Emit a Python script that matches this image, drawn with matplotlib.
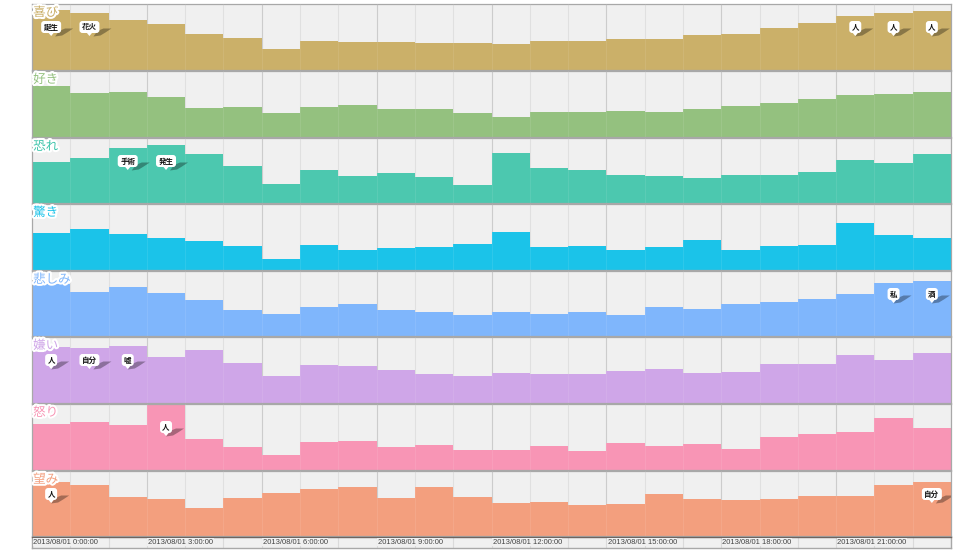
import matplotlib
matplotlib.use("Agg")
import matplotlib.pyplot as plt
import matplotlib.patheffects as pe
from matplotlib.patches import FancyBboxPatch, Polygon
from matplotlib.transforms import Affine2D, ScaledTranslation

plt.rcParams['font.family'] = ['Noto Sans CJK JP', 'DejaVu Sans']

W, H = 967, 553
LEFT, RIGHT = 32, 951

emotions = ['喜び', '好き', '恐れ', '驚き', '悲しみ', '嫌い', '怒り', '望み']
colors = ['#CBB069', '#94C17F', '#4CC8AF', '#1BC3E9',
          '#7FB6FC', '#CFA6E8', '#F895B5', '#F39F7E']
label_colors = ['#C9AE66', '#94C17F', '#3CC4AA', '#1BC3E9',
                '#7FB6FC', '#CFA6E8', '#F895B5', '#F39F7E']

joy = [178, 170, 149, 136, 107, 94, 63, 85, 84, 82, 80, 81,
       76, 85, 85, 92, 91, 103, 107, 126, 139, 160, 169, 175]
like = [151, 131, 134, 120, 85, 89, 72, 90, 94, 82, 82, 70,
        59, 75, 75, 78, 75, 84, 92, 102, 113, 125, 129, 135]
fear = [125, 137, 165, 176, 147, 112, 57, 100, 82, 91, 78, 55,
        151, 106, 99, 85, 81, 76, 85, 85, 93, 130, 122, 148]
surprise = [110, 122, 107, 96, 86, 71, 32, 75, 58, 64, 69, 76,
            113, 68, 71, 58, 67, 88, 58, 72, 74, 141, 105, 95]
sadness = [157, 133, 148, 130, 109, 77, 67, 86, 95, 79, 71, 64,
           72, 67, 71, 62, 88, 80, 95, 104, 111, 127, 160, 165]
dislike = [165, 162, 168, 138, 156, 118, 80, 114, 110, 99, 86, 79,
           89, 86, 85, 95, 102, 89, 91, 117, 117, 143, 128, 149]
anger = [138, 143, 133, 196, 91, 68, 46, 82, 85, 69, 75, 58,
         59, 70, 57, 80, 70, 76, 61, 99, 107, 112, 154, 124]
hope = [164, 155, 119, 111, 85, 116, 129, 143, 148, 116, 148, 118,
        101, 102, 92, 97, 128, 111, 108, 113, 122, 122, 154, 164]
series = [joy, like, fear, surprise, sadness, dislike, anger, hope]

# (panel, hour, word) for each keyword balloon
tags = [(0, 0, '誕生'), (0, 1, '花火'), (0, 21, '人'), (0, 22, '人'), (0, 23, '人'),
        (2, 2, '手術'), (2, 3, '発生'),
        (4, 22, '私'), (4, 23, '酒'),
        (5, 0, '人'), (5, 1, '自分'), (5, 2, '嘘'),
        (6, 3, '人'),
        (7, 0, '人'), (7, 23, '自分')]

tick_hours = [0, 3, 6, 9, 12, 15, 18, 21]
tick_labels = ['2013/08/01 0:00:00', '2013/08/01 3:00:00', '2013/08/01 6:00:00',
               '2013/08/01 9:00:00', '2013/08/01 12:00:00', '2013/08/01 15:00:00',
               '2013/08/01 18:00:00', '2013/08/01 21:00:00']

panel_tops = [4, 71, 138, 204, 271, 337, 404, 471]
panel_bottoms = [70, 137, 203, 270, 336, 403, 470, 536]
AXIS_TOP, AXIS_BOTTOM = 537, 548
Y_MAX = 196

fig = plt.figure(figsize=(W / 100, H / 100), dpi=100, facecolor='white')


def add_axes_px(top, bottom):
    return fig.add_axes([LEFT / W, 1 - bottom / H, (RIGHT - LEFT) / W, (bottom - top) / H])


def draw_tag(ax, hour, word, y):
    # Balloon geometry is in pixels, anchored at the bin centre.
    anchor = ScaledTranslation(hour + 0.5, y, ax.transData)
    px = Affine2D() + anchor
    half = 10 if len(word) > 1 else 6
    shadow = Polygon([(half - 6, -9.5), (half + 1, -8.5), (half + 6, -5.5), (half + 12, -1.5),
                      (half + 4, -1.5), (half - 2, -4)],
                     closed=True, transform=px, facecolor='#000000', alpha=0.32,
                     edgecolor='none', zorder=4)
    ax.add_patch(shadow)
    shadow.set_clip_path(ax.patch)
    ax.add_patch(FancyBboxPatch((-half + 2, -4), 2 * half - 4, 8,
                                boxstyle='round,pad=2,rounding_size=3',
                                transform=px, facecolor='white', edgecolor='none',
                                zorder=5, clip_on=False))
    ax.add_patch(Polygon([(-2.5, -6), (2.5, -6), (0, -9)], closed=True, transform=px,
                         facecolor='white', edgecolor='none', zorder=5))
    ax.annotate(word, xy=(hour + 0.5, y), ha='center', va='center', fontsize=5.4,
                fontweight='bold', color='#111111', zorder=6)


for i, (name, values) in enumerate(zip(emotions, series)):
    ax = add_axes_px(panel_tops[i], panel_bottoms[i])
    ax.set_facecolor('#F0F0F0')
    ax.set_xlim(0, 24)
    ax.set_ylim(0, Y_MAX)
    ax.bar(range(24), values, width=1.0, align='edge', color=colors[i], zorder=2)
    for h in range(1, 24):
        shade = '#C8C8C8' if h % 3 == 0 else '#DEDEDE'
        ax.axvline(h, color=shade, lw=0.8, zorder=1)
        ax.axvline(h, color='white', lw=0.5, alpha=0.12, zorder=3)
    ax.set_xticks([])
    ax.set_yticks([])
    for s in ax.spines.values():
        s.set_color('#A8A8A8')
        s.set_linewidth(0.9)
    ax.text(0.03, Y_MAX - 6, name, fontsize=9, color=label_colors[i], ha='left', va='top',
            zorder=7, clip_on=False,
            path_effects=[pe.withStroke(linewidth=3, foreground='white')])
    tag_y = Y_MAX * (1 - 23 / (panel_bottoms[i] - panel_tops[i]))
    for panel, hour, word in tags:
        if panel == i:
            draw_tag(ax, hour, word, tag_y)

axis = add_axes_px(AXIS_TOP, AXIS_BOTTOM)
axis.set_facecolor('#F0F0F0')
axis.set_xlim(0, 24)
axis.set_ylim(0, 1)
axis.set_xticks([])
axis.set_yticks([])
for h in range(1, 24):
    axis.axvline(h, color='#DADADA', lw=0.8, zorder=1)
for s in axis.spines.values():
    s.set_color('#A8A8A8')
    s.set_linewidth(1.0)
axis.spines['top'].set_color('#6E6460')
for hour, label in zip(tick_hours, tick_labels):
    axis.text(hour + 0.03, 0.52, label, fontsize=5.5, color='#444444', ha='left', va='center',
              family=['Liberation Sans', 'DejaVu Sans'], zorder=3,
              bbox=dict(facecolor='#F0F0F0', edgecolor='none', pad=0.4))

fig.savefig('out.png', dpi=100)
